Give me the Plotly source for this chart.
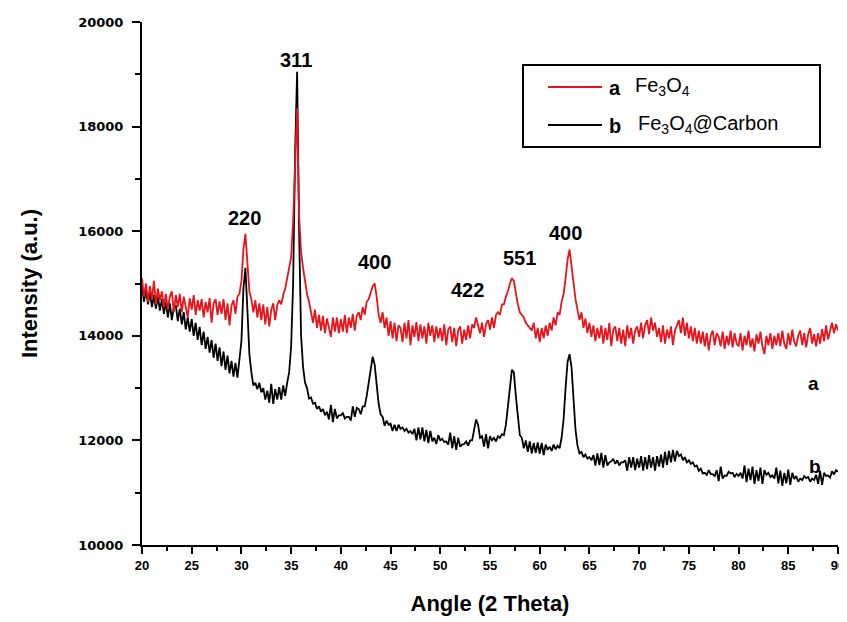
import numpy as np
import plotly.graph_objects as go

# 2-theta grid (degrees), 0.2 deg steps from 20 to 90
two_theta = np.round(np.arange(351) * 0.2 + 20.0, 1)

# a: Fe3O4
fe3o4 = [
    15100, 14750, 15000, 14650, 14950, 14700, 15050, 14600, 14900, 14680,  # 20
    14850, 14550, 14800, 14500, 14750, 14850, 14450, 14780, 14550, 14800,  # 22
    14450, 14750, 14550, 14350, 14720, 14500, 14780, 14400, 14680, 14480,  # 24
    14700, 14350, 14650, 14450, 14720, 14250, 14620, 14700, 14400, 14660,  # 26
    14420, 14700, 14300, 14620, 14200, 14580, 14680, 14420, 14750, 14800,  # 28
    15050, 15650, 15950, 15300, 14850, 14700, 14450, 14680, 14350, 14620,  # 30
    14300, 14600, 14220, 14550, 14180, 14500, 14620, 14300, 14580, 14680,  # 32
    14600, 14780, 14900, 15100, 15300, 15500, 16200, 17400, 18350, 16300,  # 34
    15600, 15300, 15050, 14800, 14650, 14480, 14250, 14500, 14150, 14400,  # 36
    14100, 14380, 14050, 14330, 14150, 13980, 14350, 14080, 14350, 14050,  # 38
    14320, 14080, 14400, 14050, 14350, 14150, 14420, 14100, 14380, 14450,  # 40
    14300, 14550, 14400, 14650, 14700, 14850, 14950, 15000, 14750, 14400,  # 42
    14250, 14450, 14150, 14350, 14000, 14280, 13950, 14250, 13900, 14200,  # 44
    14150, 13880, 14250, 13950, 14300, 13820, 14200, 13980, 14260, 13900,  # 46
    14220, 13950, 14180, 13850, 14250, 14000, 14200, 13880, 14180, 13950,  # 48
    14150, 13900, 14220, 13820, 14120, 14180, 13880, 14150, 13800, 14100,  # 50
    14180, 13850, 14120, 13920, 14200, 13950, 14220, 14150, 14350, 14200,  # 52
    14050, 14250, 13980, 14220, 14300, 14120, 14350, 14150, 14400, 14450,  # 54
    14400, 14600, 14600, 14750, 14850, 15000, 15100, 15050, 14800, 14600,  # 56
    14450, 14400, 14350, 14250, 14200, 14150, 14100, 14250, 13950, 14150,  # 58
    13880, 14150, 13950, 14200, 14000, 14250, 14100, 14350, 14200, 14450,  # 60
    14400, 14650, 14800, 15100, 15450, 15650, 15300, 14950, 14700, 14500,  # 62
    14300, 14450, 14150, 14330, 14050, 14250, 13980, 14200, 13900, 14150,  # 64
    13950, 14200, 13850, 14150, 13920, 14250, 13800, 14120, 14180, 13900,  # 66
    14150, 13850, 14120, 13800, 14200, 13950, 14150, 13850, 14100, 14180,  # 68
    13980, 14250, 13950, 14200, 14300, 14030, 14350, 14100, 14250, 13980,  # 70
    14150, 13880, 14200, 13850, 14120, 13950, 14180, 13820, 14100, 14200,  # 72
    14300, 14050, 14350, 14000, 14250, 13950, 14180, 13900, 14150, 13850,  # 74
    14100, 13850, 14080, 13800, 14050, 13720, 14000, 14100, 13820, 14050,  # 76
    13980, 13800, 14080, 13750, 14000, 13820, 14100, 13780, 14050, 13850,  # 78
    13800, 14050, 13720, 14000, 13820, 14100, 13780, 13950, 13700, 14030,  # 80
    13850, 14080, 13800, 13650, 14000, 13820, 14050, 13750, 14000, 13820,  # 82
    14050, 13800, 14100, 13850, 13750, 14050, 13820, 14120, 13880, 13800,  # 84
    14000, 14100, 13820, 14050, 13780, 14030, 14150, 13850, 14030, 13800,  # 86
    14050, 13850, 14130, 13900, 14200, 13930, 14100, 14250, 14050, 14220,  # 88
    14100,                                                                 # 90
]

# b: Fe3O4@Carbon
fe3o4_carbon = [
    14950, 14650, 14880, 14600, 14820, 14550, 14780, 14520, 14750, 14480,  # 20
    14700, 14420, 14650, 14350, 14620, 14300, 14550, 14580, 14280, 14520,  # 22
    14220, 14450, 14120, 14350, 14080, 14320, 14000, 14250, 13920, 14170,  # 24
    13820, 14080, 13750, 13980, 13680, 13920, 13580, 13850, 13520, 13780,  # 26
    13420, 13700, 13350, 13620, 13280, 13520, 13220, 13480, 13200, 13500,  # 28
    13900, 14900, 15300, 14500, 13650, 13300, 13050, 13100, 12980, 13100,  # 30
    12920, 13000, 12780, 12950, 12720, 13080, 12700, 12980, 12780, 13020,  # 32
    12780, 13050, 12850, 13100, 13300, 13800, 15000, 17500, 19050, 16000,  # 34
    14000, 13400, 13100, 13000, 12800, 12820, 12700, 12720, 12600, 12650,  # 36
    12550, 12600, 12480, 12550, 12400, 12680, 12350, 12600, 12420, 12480,  # 38
    12480, 12520, 12420, 12450, 12450, 12380, 12650, 12450, 12620, 12600,  # 40
    12500, 12650, 12650, 12850, 13100, 13400, 13600, 13450, 13000, 12700,  # 42
    12500, 12450, 12280, 12380, 12300, 12320, 12180, 12300, 12180, 12300,  # 44
    12220, 12250, 12180, 12220, 12150, 12180, 12120, 12220, 12000, 12250,  # 46
    12020, 12250, 11980, 12200, 11950, 12180, 11980, 12050, 11930, 12100,  # 48
    12000, 12030, 11970, 11980, 11920, 12150, 11850, 12080, 11820, 12050,  # 50
    11880, 11920, 11930, 11980, 11900, 12000, 12000, 12200, 12400, 12300,  # 52
    12050, 12080, 11880, 12120, 11850, 12080, 12000, 12050, 11980, 12080,  # 54
    12050, 12120, 12100, 12300, 12600, 13000, 13350, 13300, 12850, 12400,  # 56
    12100, 12050, 11850, 12000, 11780, 11980, 11750, 11950, 11760, 11960,  # 58
    11750, 11950, 11720, 11920, 11820, 11880, 11800, 11920, 11830, 11900,  # 60
    11850, 12050, 12400, 13000, 13500, 13650, 13400, 12800, 12200, 11900,  # 62
    11750, 11780, 11680, 11730, 11650, 11680, 11620, 11720, 11520, 11750,  # 64
    11530, 11760, 11480, 11720, 11520, 11580, 11600, 11650, 11550, 11620,  # 66
    11520, 11580, 11580, 11620, 11420, 11680, 11480, 11680, 11430, 11650,  # 68
    11480, 11700, 11420, 11680, 11450, 11720, 11480, 11680, 11420, 11700,  # 70
    11500, 11730, 11480, 11780, 11530, 11800, 11580, 11820, 11600, 11800,  # 72
    11700, 11730, 11620, 11680, 11580, 11620, 11550, 11580, 11500, 11520,  # 74
    11420, 11460, 11370, 11380, 11340, 11430, 11360, 11350, 11320, 11430,  # 76
    11220, 11500, 11270, 11330, 11320, 11400, 11370, 11380, 11300, 11360,  # 78
    11320, 11380, 11270, 11520, 11200, 11460, 11240, 11500, 11170, 11430,  # 80
    11220, 11480, 11170, 11430, 11340, 11380, 11300, 11330, 11270, 11480,  # 82
    11180, 11420, 11130, 11380, 11180, 11440, 11150, 11380, 11260, 11320,  # 84
    11210, 11270, 11240, 11320, 11280, 11300, 11210, 11270, 11240, 11340,  # 86
    11170, 11420, 11150, 11380, 11320, 11330, 11290, 11410, 11350, 11430,  # 88
    11400,                                                                 # 90
]

# peak labels (hkl) and their positions
peak_labels = ["220", "311", "400", "422", "551", "400"]
peak_x = [30.3, 35.5, 43.4, 52.7, 58.0, 62.6]
peak_y = [16250, 19280, 15420, 14880, 15480, 15960]

series_letters = ["a", "b"]
series_names = ["Fe<sub>3</sub>O<sub>4</sub>", "Fe<sub>3</sub>O<sub>4</sub>@Carbon"]
series_colors = ["#e8141b", "#000000"]

FONT = "Liberation Sans, Arial, sans-serif"
TICKFONT = "DejaVu Sans, Verdana, sans-serif"

fig = go.Figure()
fig.add_trace(go.Scatter(x=two_theta, y=fe3o4_carbon, mode="lines",
                         line=dict(color=series_colors[1], width=1.8),
                         name="b Fe3O4@Carbon", showlegend=False))
fig.add_trace(go.Scatter(x=two_theta, y=fe3o4, mode="lines",
                         line=dict(color=series_colors[0], width=1.8),
                         name="a Fe3O4", showlegend=False))

for lab, px, py in zip(peak_labels, peak_x, peak_y):
    fig.add_annotation(x=px, y=py, text="<b>%s</b>" % lab, showarrow=False,
                       font=dict(family=FONT, size=20, color="black"))

fig.add_annotation(x=87.5, y=13080, text="<b>a</b>", showarrow=False,
                   font=dict(family=FONT, size=19, color="black"))
fig.add_annotation(x=87.7, y=11510, text="<b>b</b>", showarrow=False,
                   font=dict(family=FONT, size=19, color="black"))

# The page body has an 8px margin, so the figure is offset by (8, 8) in the window.
OFF = 8
W, H = 847 - OFF, 622 - OFF
L, R, B, T = 142, 838, 545, 22   # plot-area edges in window pixels
def px2paper_x(p):
    return (p - L) / (R - L)
def px2paper_y(p):
    return (B - p) / (B - T)

fig.add_shape(type="rect", xref="paper", yref="paper",
              x0=px2paper_x(523), x1=px2paper_x(820),
              y0=px2paper_y(147), y1=px2paper_y(65),
              line=dict(color="black", width=2), fillcolor="white", layer="above")
for i, ypix in enumerate([87, 125]):
    fig.add_shape(type="line", xref="paper", yref="paper",
                  x0=px2paper_x(548), x1=px2paper_x(602),
                  y0=px2paper_y(ypix), y1=px2paper_y(ypix),
                  line=dict(color=series_colors[i], width=2), layer="above")
    fig.add_annotation(xref="paper", yref="paper", x=px2paper_x(607), y=px2paper_y(ypix + 1),
                       xanchor="left", yanchor="middle", showarrow=False,
                       text="<b>%s</b>" % series_letters[i],
                       font=dict(family=FONT, size=20, color="black"))
    fig.add_annotation(xref="paper", yref="paper", x=px2paper_x(633 + 3 * i), y=px2paper_y(ypix - 1),
                       xanchor="left", yanchor="middle", showarrow=False,
                       text=series_names[i],
                       font=dict(family=FONT, size=20, color="black"))

fig.update_layout(
    width=W, height=H,
    margin=dict(l=L - OFF, r=(W + OFF) - R, t=T - OFF, b=(H + OFF) - B, autoexpand=False),
    paper_bgcolor="white", plot_bgcolor="white",
    showlegend=False,
    font=dict(family=FONT, color="black"),
    xaxis=dict(range=[20, 90], tick0=20, dtick=5, showgrid=False, zeroline=False,
               automargin=False,
               showline=True, linecolor="black", linewidth=2,
               ticks="outside", ticklen=7, tickwidth=2, tickcolor="black",
               minor=dict(dtick=2.5, ticks="outside", ticklen=4, tickwidth=1.5, tickcolor="black"),
               tickfont=dict(family=FONT, size=13, color="black", weight="bold"),
               title=dict(text="<b>Angle (2 Theta)</b>", standoff=24,
                          font=dict(family=FONT, size=22, color="black"))),
    yaxis=dict(range=[10000, 20000], tick0=10000, dtick=2000, showgrid=False, zeroline=False,
               automargin=False,
               showline=True, linecolor="black", linewidth=2,
               ticks="outside", ticklen=8, tickwidth=2, tickcolor="black",
               minor=dict(dtick=1000, ticks="outside", ticklen=5, tickwidth=1.5, tickcolor="black"),
               tickfont=dict(family=TICKFONT, size=13, color="black", weight="bold"),
               ticklabelstandoff=6,
               tickformat="d",
               title=dict(text="<b>Intensity (a.u.)</b>", standoff=34,
                          font=dict(family=FONT, size=22, color="black"))),
)

fig.write_html("out.html")
